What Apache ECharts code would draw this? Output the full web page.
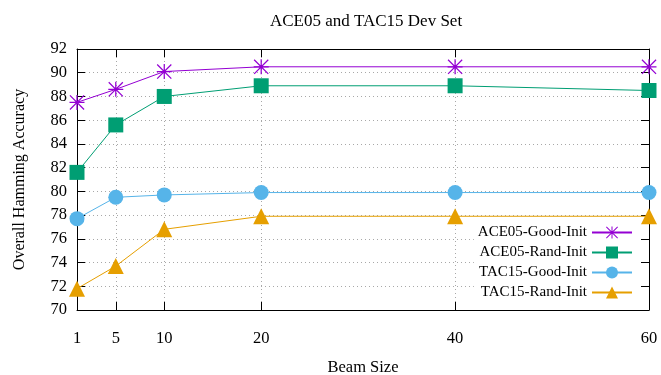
<!DOCTYPE html>
<html>
<head>
<meta charset="utf-8">
<script src="https://cdn.jsdelivr.net/npm/echarts@6/dist/echarts.min.js"></script>
<style>html,body{margin:0;padding:0;background:#fff}#c{width:661px;height:375px}</style>
</head>
<body>
<div id="c"></div>
<script>
var beamSizes = [1, 5, 10, 20, 40, 60];
var yTicks = [70, 72, 74, 76, 78, 80, 82, 84, 86, 88, 90, 92];
var seriesNames = ['ACE05-Good-Init', 'ACE05-Rand-Init', 'TAC15-Good-Init', 'TAC15-Rand-Init'];
var ace05Good = [87.5, 88.6, 90.1, 90.5, 90.5, 90.5];
var ace05Rand = [81.6, 85.6, 88.0, 88.9, 88.9, 88.5];
var tac15Good = [77.7, 79.5, 79.7, 79.9, 79.9, 79.9];
var tac15Rand = [71.8, 73.7, 76.8, 77.9, 77.9, 77.9];

var FONT = 'Liberation Serif';
var asterisk = 'path://M11 0H13V24H11Z M0 11H24V13H0Z M1.4 0L24 22.6L22.6 24L0 1.4Z M22.6 0L24 1.4L1.4 24L0 22.6Z';

function pairs(vals) { return beamSizes.map(function (x, i) { return [x, vals[i]]; }); }

var colors = ['#9400d3', '#009e73', '#56b4e9', '#e69f00'];
var symbols = [asterisk, 'rect', 'circle', 'triangle'];
var sizes = [15, 15, 15, 16];
var allVals = [ace05Good, ace05Rand, tac15Good, tac15Rand];

var series = seriesNames.map(function (n, i) {
  return {
    name: n, type: 'line', data: pairs(allVals[i]),
    symbol: symbols[i], symbolSize: sizes[i], clip: false,
    itemStyle: { color: colors[i] },
    lineStyle: { color: colors[i], width: 1 },
    emphasis: { disabled: true }, z: 3
  };
});

var dotted = { color: '#a8a8a8', width: 1, type: [1, 3] };
var chart = echarts.init(document.getElementById('c'));
chart.setOption({
  animation: false,
  backgroundColor: '#fff',
  title: { text: 'ACE05 and TAC15 Dev Set', left: 361, textAlign: 'center', top: 8,
    textStyle: { fontFamily: FONT, fontSize: 17, fontWeight: 'normal', color: '#000' } },
  grid: { left: 77, right: 12, top: 49, bottom: 65, outerBoundsMode: 'none', containLabel: false },
  legend: {
    orient: 'vertical', align: 'right', right: 20, top: 222,
    padding: [3, 8, 3, 4], backgroundColor: '#fff',
    itemWidth: 40, itemHeight: 15, itemGap: 5,
    textStyle: { fontFamily: FONT, fontSize: 15, color: '#000', width: 106, align: 'right', lineHeight: 15 },
    data: seriesNames, selectedMode: false
  },
  xAxis: [{
    type: 'value', min: 1, max: 60, position: 'bottom',
    name: 'Beam Size', nameLocation: 'middle', nameGap: 49,
    nameTextStyle: { fontFamily: FONT, fontSize: 16.5, color: '#000' },
    axisLine: { lineStyle: { color: '#000', width: 1 } },
    axisTick: { inside: true, length: 8, customValues: beamSizes, lineStyle: { color: '#000' } },
    axisLabel: { customValues: beamSizes, margin: 20, fontFamily: FONT, fontSize: 16.5, color: '#000' },
    splitLine: { show: true, lineStyle: dotted }
  }, {
    type: 'value', min: 1, max: 60, position: 'top',
    axisLine: { lineStyle: { color: '#000', width: 1 } },
    axisTick: { inside: true, length: 8, customValues: beamSizes, lineStyle: { color: '#000' } },
    axisLabel: { show: false }, splitLine: { show: false }
  }],
  yAxis: [{
    type: 'value', min: 70, max: 92, interval: 2, position: 'left',
    name: 'Overall Hamming Accuracy', nameLocation: 'middle', nameGap: 49,
    nameTextStyle: { fontFamily: FONT, fontSize: 16, color: '#000' },
    axisLine: { show: true, lineStyle: { color: '#000', width: 1 } },
    axisTick: { show: true, inside: true, length: 8, lineStyle: { color: '#000' } },
    axisLabel: { margin: 10, fontFamily: FONT, fontSize: 16.5, color: '#000' },
    splitLine: { show: true, lineStyle: dotted }
  }, {
    type: 'value', min: 70, max: 92, interval: 2, position: 'right',
    axisLine: { show: true, lineStyle: { color: '#000', width: 1 } },
    axisTick: { show: true, inside: true, length: 8, lineStyle: { color: '#000' } },
    axisLabel: { show: false }, splitLine: { show: false }
  }],
  series: series
});
</script>
</body>
</html>
